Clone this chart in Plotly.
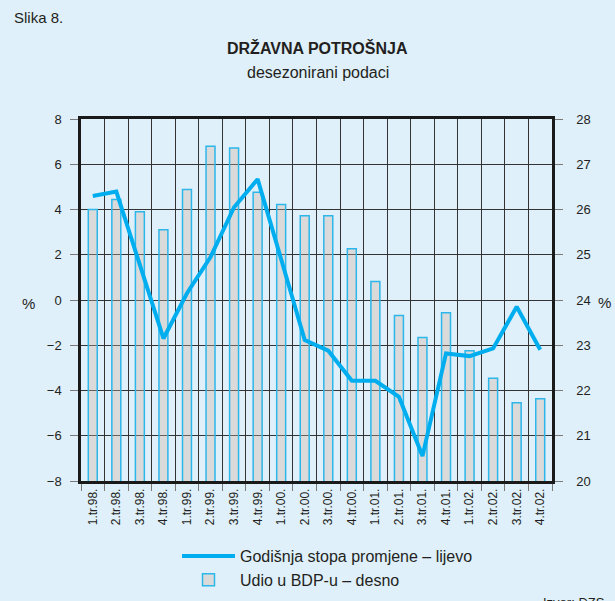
import plotly.graph_objects as go

categories = ["1.tr.98.", "2.tr.98.", "3.tr.98.", "4.tr.98.",
              "1.tr.99.", "2.tr.99.", "3.tr.99.", "4.tr.99.",
              "1.tr.00.", "2.tr.00.", "3.tr.00.", "4.tr.00.",
              "1.tr.01.", "2.tr.01.", "3.tr.01.", "4.tr.01.",
              "1.tr.02.", "2.tr.02.", "3.tr.02.", "4.tr.02."]

godisnja_stopa = [4.6, 4.79, 1.55, -1.7, 0.3, 1.9, 4.1, 5.34, 1.8, -1.77,
                  -2.24, -3.57, -3.57, -4.28, -6.9, -2.36, -2.48, -2.14, -0.3, -2.2]

udio_bdp = [26.0, 26.22, 25.95, 25.55, 26.44, 27.40, 27.36, 26.38, 26.11, 25.86,
            25.86, 25.13, 24.41, 23.66, 23.17, 23.72, 22.88, 22.27, 21.73, 21.82]

BG = "#dff0fa"
GRID = "#333333"
AXIS = "#1a1a1a"
TICKC = "#7a7a7a"
TXT = "#231f20"
FONT = "Arial, Liberation Sans, sans-serif"

fig = go.Figure()

fig.add_trace(go.Scatter(
    x=categories, y=godisnja_stopa, yaxis="y2", mode="lines",
    name="Godišnja stopa promjene – lijevo",
    line=dict(color="#00aeef", width=4),
))

fig.add_trace(go.Bar(
    x=categories, y=udio_bdp, yaxis="y",
    name="Udio u BDP-u – desno",
    width=0.38,
    marker=dict(color="rgba(209,177,159,0.35)",
                line=dict(color="#2cb6ea", width=1.5)),
))

fig.update_layout(
    width=615, height=601,
    margin=dict(l=81, r=63, t=119, b=120, autoexpand=False),
    paper_bgcolor=BG, plot_bgcolor=BG,
    font=dict(family=FONT, color=TXT, size=13),
    showlegend=True,
    legend=dict(x=(177 - 81) / 471, y=(481 - 539) / 361.7,
                xanchor="left", yanchor="top",
                orientation="v", bgcolor="rgba(0,0,0,0)",
                font=dict(size=16, color=TXT), itemwidth=53,
                tracegroupgap=0),
    xaxis=dict(type="category", range=[-0.5, 19.5], tickson="boundaries",
               showgrid=True, gridcolor=GRID, gridwidth=1.2,
               ticks="outside", ticklen=7, tickcolor=TICKC, tickwidth=1.2,
               tickangle=-90, tickfont=dict(size=12), automargin=False,
               showline=True, linecolor=AXIS, linewidth=2.5, mirror=True),
    yaxis=dict(side="right", range=[20, 28], dtick=1,
               showgrid=True, gridcolor=GRID, gridwidth=1.2, zeroline=False,
               ticks="outside", ticklen=8, tickcolor=TICKC, tickwidth=1.2,
               ticklabelstandoff=11, automargin=False,
               showline=True, linecolor=AXIS, linewidth=2.5, mirror=True),
    yaxis2=dict(overlaying="y", side="left", range=[-8, 8], dtick=2,
                showgrid=False, zeroline=False,
                ticks="outside", ticklen=8, tickcolor=TICKC, tickwidth=1.2,
                ticklabelstandoff=6, automargin=False,
                showline=True, linecolor=AXIS, linewidth=2.5),
    annotations=[
        dict(text="Slika 8.", x=(12 - 81) / 471, y=1.280, xref="paper", yref="paper",
             xanchor="left", yanchor="middle", showarrow=False, font=dict(size=15)),
        dict(text="<b>DRŽAVNA POTROŠNJA</b>", x=0.503, y=1.197, xref="paper", yref="paper",
             xanchor="center", yanchor="middle", showarrow=False, font=dict(size=16)),
        dict(text="desezonirani podaci", x=0.503, y=1.128, xref="paper", yref="paper",
             xanchor="center", yanchor="middle", showarrow=False, font=dict(size=16)),
        dict(text="%", x=-0.1125, y=0.489, xref="paper", yref="paper",
             xanchor="center", yanchor="middle", showarrow=False, font=dict(size=15)),
        dict(text="%", x=1.1125, y=0.492, xref="paper", yref="paper",
             xanchor="center", yanchor="middle", showarrow=False, font=dict(size=15)),
        dict(text="Izvor: DZS", x=0.977, y=-0.3097, xref="paper", yref="paper",
             xanchor="left", yanchor="top", showarrow=False, font=dict(size=13)),
    ],
)

fig.write_html("out.html", config={"displayModeBar": False},
               post_script="document.body.style.margin='0';document.body.style.overflow='hidden';")
